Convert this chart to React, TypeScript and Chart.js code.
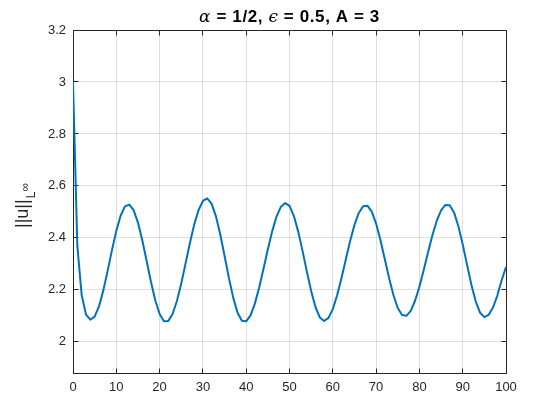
import React, { useEffect, useRef } from "react";
import { Chart, registerables } from "chart.js";

Chart.register(...registerables);

// ---- data ----
const tValues: number[] = Array.from({ length: 101 }, (_, i) => i);
const uNorm: number[] = [
  3.0, 2.37, 2.18, 2.105, 2.085, 2.097, 2.136, 2.198, 2.273, 2.353,
  2.427, 2.485, 2.521, 2.528, 2.507, 2.459, 2.391, 2.312, 2.231, 2.16,
  2.107, 2.079, 2.08, 2.107, 2.157, 2.224, 2.302, 2.38, 2.452, 2.507,
  2.542, 2.552, 2.532, 2.484, 2.414, 2.331, 2.246, 2.17, 2.112, 2.081,
  2.079, 2.102, 2.147, 2.209, 2.281, 2.356, 2.425, 2.482, 2.519, 2.534,
  2.523, 2.485, 2.425, 2.351, 2.271, 2.196, 2.134, 2.094, 2.08, 2.092,
  2.126, 2.179, 2.245, 2.317, 2.388, 2.45, 2.496, 2.522, 2.524, 2.501,
  2.455, 2.392, 2.319, 2.246, 2.18, 2.13, 2.103, 2.1, 2.119, 2.158,
  2.212, 2.276, 2.345, 2.41, 2.465, 2.506, 2.527, 2.526, 2.498, 2.445,
  2.375, 2.297, 2.22, 2.156, 2.112, 2.095, 2.104, 2.132, 2.178, 2.237,
  2.288,
];
const xTicks: number[] = [0, 10, 20, 30, 40, 50, 60, 70, 80, 90, 100];
const yTicks: number[] = [2, 2.2, 2.4, 2.6, 2.8, 3, 3.2];
const yTickLabels: string[] = ["2", "2.2", "2.4", "2.6", "2.8", "3", "3.2"];
const xMin = 0;
const xMax = 100;
const yMin = 1.88;
const yMax = 3.2;

const AXIS = "#262626";
const GRID = "rgba(38,38,38,0.15)";
const LINE = "#0072BD";
const SANS = '"Liberation Sans", Arial, sans-serif';
const GREEK = '"DejaVu Serif", serif';

const align = (p: number) => Math.round(p - 0.5) + 0.5;

const boxPlugin = {
  id: "matlabBox",
  beforeDatasetsDraw(chart: any) {
    const { ctx, chartArea: a, scales } = chart;
    const L = align(a.left);
    const R = align(a.right);
    const T = align(a.top);
    const B = align(a.bottom);
    ctx.save();
    ctx.strokeStyle = AXIS;
    ctx.lineWidth = 1;
    ctx.strokeRect(L, T, R - L, B - T);
    const tl = 5;
    ctx.beginPath();
    xTicks.forEach((v) => {
      const p = align(scales.x.getPixelForValue(v));
      ctx.moveTo(p, B);
      ctx.lineTo(p, B - tl);
      ctx.moveTo(p, T);
      ctx.lineTo(p, T + tl);
    });
    yTicks.forEach((v) => {
      const p = align(scales.y.getPixelForValue(v));
      ctx.moveTo(L, p);
      ctx.lineTo(L + tl, p);
      ctx.moveTo(R, p);
      ctx.lineTo(R - tl, p);
    });
    ctx.stroke();
    ctx.restore();
  },
};

const textPlugin = {
  id: "matlabText",
  afterDraw(chart: any) {
    const { ctx, chartArea: a } = chart;
    ctx.save();
    ctx.fillStyle = "#000000";
    ctx.textBaseline = "alphabetic";
    ctx.textAlign = "left";
    // title
    const parts = [
      { t: "\u03B1", f: `italic 17px ${GREEK}` },
      { t: " = 1/2, ", f: `bold 17px ${SANS}` },
      { t: "\u03F5", f: `italic 17px ${GREEK}` },
      { t: " = 0.5, A = 3", f: `bold 17px ${SANS}` },
    ];
    (ctx as any).letterSpacing = "0.6px";
    let total = 0;
    parts.forEach((p) => {
      ctx.font = p.f;
      total += ctx.measureText(p.t).width;
    });
    let x = (a.left + a.right) / 2 - total / 2;
    parts.forEach((p) => {
      ctx.font = p.f;
      ctx.fillText(p.t, x, 22);
      x += ctx.measureText(p.t).width;
    });
    (ctx as any).letterSpacing = "0px";
    // y label
    ctx.fillStyle = AXIS;
    ctx.translate(28, 228);
    ctx.rotate(-Math.PI / 2);
    ctx.font = `18px ${SANS}`;
    ctx.fillText("||u||", 0, 0);
    let w = ctx.measureText("||u||").width + 1;
    ctx.font = `12px ${SANS}`;
    ctx.fillText("L", w, 7);
    w += ctx.measureText("L").width;
    ctx.font = `12px ${SANS}`;
    ctx.fillText("\u221E", w, 1);
    ctx.restore();
  },
};

export default function App() {
  const ref = useRef<HTMLCanvasElement | null>(null);
  useEffect(() => {
    document.body.style.margin = "0";
    const canvas = ref.current;
    if (!canvas) return;
    const chart = new Chart(canvas, {
      type: "line",
      data: {
        datasets: [
          {
            data: tValues.map((t, i) => ({ x: t, y: uNorm[i] })),
            borderColor: LINE,
            borderWidth: 2,
            pointRadius: 0,
            tension: 0,
            fill: false,
            borderJoinStyle: "round",
          },
        ],
      },
      options: {
        animation: false,
        responsive: false,
        devicePixelRatio: 1,
        layout: { padding: { top: 30, right: 54, left: 0, bottom: 0 } },
        plugins: {
          legend: { display: false },
          title: { display: false },
          tooltip: { enabled: false },
        },
        scales: {
          x: {
            type: "linear",
            min: xMin,
            max: xMax,
            afterBuildTicks: (s: any) => {
              s.ticks = xTicks.map((v) => ({ value: v }));
            },
            afterFit: (s: any) => {
              s.height = 47;
            },
            grid: { color: GRID, drawTicks: false, lineWidth: 1 },
            border: { display: false },
            ticks: {
              color: AXIS,
              font: { family: SANS, size: 13 },
              padding: 7,
              maxRotation: 0,
              callback: (v: any) => String(v),
            },
          },
          y: {
            type: "linear",
            min: yMin,
            max: yMax,
            afterBuildTicks: (s: any) => {
              s.ticks = yTicks.map((v) => ({ value: v }));
            },
            afterFit: (s: any) => {
              s.width = 73;
            },
            grid: { color: GRID, drawTicks: false, lineWidth: 1 },
            border: { display: false },
            ticks: {
              color: AXIS,
              font: { family: SANS, size: 13 },
              padding: 7,
              callback: (v: any) => {
                const i = yTicks.findIndex((t) => Math.abs(t - v) < 1e-9);
                return i >= 0 ? yTickLabels[i] : "";
              },
            },
          },
        },
      },
      plugins: [boxPlugin, textPlugin],
    } as any);
    return () => chart.destroy();
  }, []);
  return (
    <div style={{ position: "absolute", left: 0, top: 0, width: 560, height: 420, background: "#ffffff" }}>
      <canvas ref={ref} width={560} height={420} />
    </div>
  );
}
